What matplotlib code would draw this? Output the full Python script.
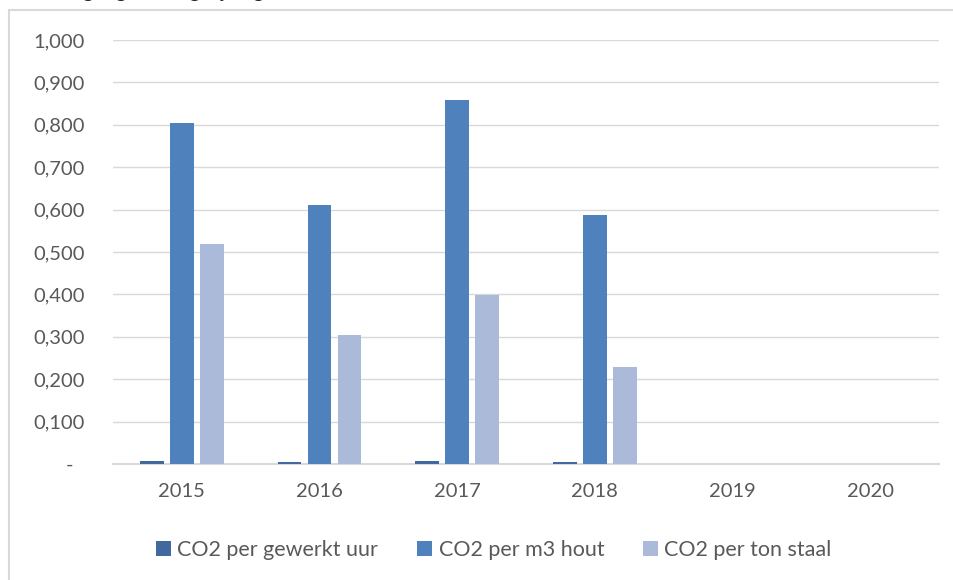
import numpy as np
import matplotlib.pyplot as plt
from matplotlib.patches import Rectangle
from matplotlib.ticker import FuncFormatter

years = ["2015", "2016", "2017", "2018", "2019", "2020"]
per_uur = [0.007, 0.005, 0.007, 0.004, 0, 0]
per_m3_hout = [0.804, 0.611, 0.858, 0.587, 0, 0]
per_ton_staal = [0.519, 0.304, 0.399, 0.229, 0, 0]
series = ["CO2 per gewerkt uur", "CO2 per m3 hout", "CO2 per ton staal"]
colors = ["#41699F", "#4F81BD", "#AABAD8"]

plt.rcParams["font.family"] = ["Lato", "DejaVu Sans"]
text_col = "#595959"
fs = 14.5

fig = plt.figure(figsize=(9.54, 5.80), dpi=100)

# chart frame (cut off at right and bottom, like the screenshot)
fig.patches.append(Rectangle((9 / 954, -0.05), 1.0, 1 - 10 / 580 + 0.05, transform=fig.transFigure,
                             fill=False, edgecolor="#D9D9D9", linewidth=1.5))
# title above the frame, only the lower part is visible
fig.text(30 / 954, 1 + 3 / 580, "Voortgang en vergelijking", fontsize=15,
         color="#222222", va="baseline", ha="left")

ax = fig.add_axes([113 / 954, 1 - 464 / 580, (939 - 113) / 954, (464 - 40) / 580])

x = np.arange(len(years))
w = 0.174
off = 0.218
for i, vals in enumerate([per_uur, per_m3_hout, per_ton_staal]):
    ax.bar(x + (i - 1) * off, vals, width=w, color=colors[i], label=series[i], zorder=3)

ax.set_xlim(-0.5, len(years) - 0.5)
ax.set_ylim(0, 1.0)
ax.set_yticks(np.arange(0, 1.01, 0.1))
ax.yaxis.set_major_formatter(FuncFormatter(
    lambda v, p: "-\u2007" if abs(v) < 1e-9 else f"{v:.3f}".replace(".", ",")))
ax.set_xticks(x)
ax.set_xticklabels(years)
ax.tick_params(length=0, labelsize=fs, colors=text_col)
ax.tick_params(axis="x", pad=14)
ax.tick_params(axis="y", pad=20)

ax.grid(axis="y", color="#D9D9D9", linewidth=1, zorder=0)
for s in ["top", "right", "left"]:
    ax.spines[s].set_visible(False)
ax.spines["bottom"].set_color("#D9D9D9")
ax.spines["bottom"].set_linewidth(1.5)

ax.legend(loc="center", bbox_to_anchor=(0.461, -0.203), ncol=3, frameon=False, fontsize=15.5,
          labelcolor=text_col, handlelength=0.7, handleheight=0.7, handletextpad=0.3,
          columnspacing=1.8)

plt.savefig("out.png", dpi=100)
